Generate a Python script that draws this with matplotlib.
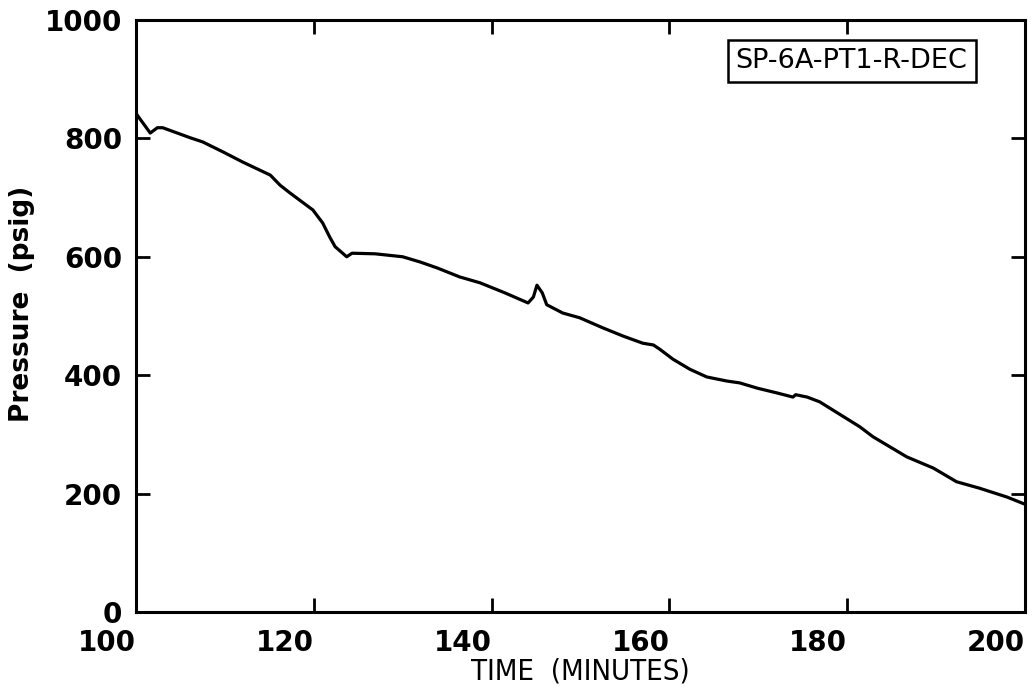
import matplotlib.pyplot as plt

time_min = [100.0, 100.1, 101.6, 102.4, 103.0, 106.1, 107.5, 109.8, 112.0, 115.1,
            116.2, 117.3, 119.9, 121.0, 121.8, 122.4, 123.7, 124.3, 126.9, 130.0,
            132.0, 133.9, 136.4, 138.7, 141.5, 144.1, 144.7, 145.1, 145.7, 146.2,
            148.0, 149.9, 152.5, 154.8, 157.0, 158.2, 158.9, 160.4, 162.3, 164.2,
            166.5, 167.9, 169.9, 172.1, 173.9, 174.2, 175.5, 176.9, 178.4, 181.4,
            182.9, 186.7, 189.7, 192.3, 194.9, 198.0, 200.0]
pressure = [845, 840, 809, 818, 818, 801, 794, 777, 760, 738,
            721, 708, 679, 657, 633, 617, 600, 606, 605, 600,
            591, 581, 566, 556, 539, 522, 532, 552, 539, 519,
            505, 497, 480, 466, 454, 451, 444, 427, 410, 397,
            390, 387, 378, 370, 363, 367, 363, 355, 341, 313,
            296, 262, 243, 220, 209, 194, 182]

x_ticks = [100, 120, 140, 160, 180, 200]
y_ticks = [0, 200, 400, 600, 800, 1000]
tag = "SP-6A-PT1-R-DEC"

fig = plt.figure(figsize=(10.32, 6.86), dpi=100)
ax = fig.add_axes([0.1318, 0.1079, 0.8614, 0.863])

ax.plot(time_min, pressure, color="black", lw=2.3, solid_joinstyle="round")

ax.set_xlim(100, 200)
ax.set_ylim(0, 1000)
ax.set_xticks(x_ticks)
ax.set_yticks(y_ticks)
ax.set_xticklabels([str(t) for t in x_ticks], ha="right")

for s in ax.spines.values():
    s.set_linewidth(2.2)

ax.tick_params(direction="in", top=True, right=True, length=10, width=2,
               labelsize=20)
ax.tick_params(axis="x", pad=12)
ax.tick_params(axis="y", pad=10)
for lab in ax.get_xticklabels() + ax.get_yticklabels():
    lab.set_fontweight("bold")

ax.set_xlabel("TIME  (MINUTES)", fontsize=21, fontstretch="condensed")
ax.xaxis.set_label_coords(0.5, -0.077)
ax.set_ylabel("Pressure  (psig)", fontsize=19, fontweight="bold")
ax.yaxis.set_label_coords(-0.114, 0.52)

ax.text(0.805, 0.931, tag, transform=ax.transAxes, ha="center", va="center",
        fontsize=19.5,
        bbox=dict(boxstyle="square,pad=0.3", fc="white", ec="black", lw=1.8))

fig.savefig("out.png", dpi=100)
